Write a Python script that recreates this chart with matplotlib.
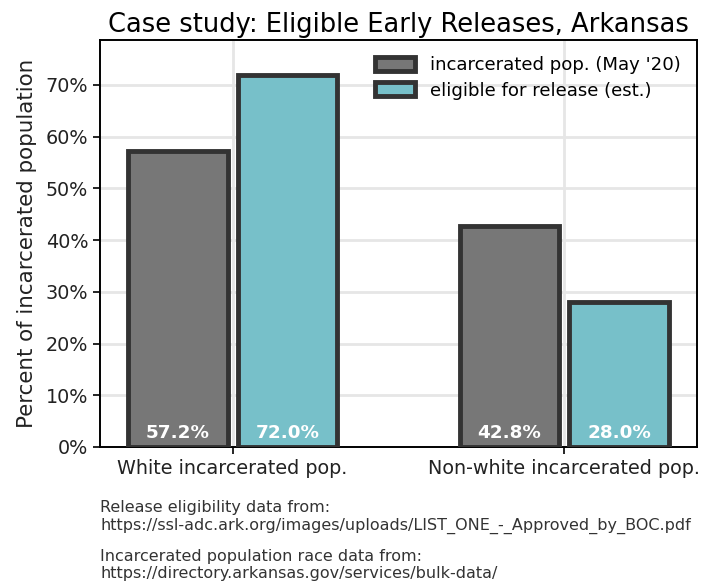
import numpy as np
import matplotlib
matplotlib.use('Agg')
import matplotlib.pyplot as plt
from matplotlib.ticker import PercentFormatter

# Data
groups = ['White incarcerated pop.', 'Non-white incarcerated pop.']
incarcerated = [57.2, 42.8]
eligible = [72.0, 28.0]
series_names = ["incarcerated pop. (May '20)", 'eligible for release (est.)']

fig = plt.figure(figsize=(7.01, 5.84), dpi=100)
ax = fig.add_axes([100/701, 1 - 447/584, 597/701, 407/584])

x = np.arange(len(groups))
w = 0.30
off = 0.165
edge = '#333333'
b1 = ax.bar(x - off, incarcerated, w, color='#777777', edgecolor=edge, linewidth=3.5,
            label=series_names[0], zorder=3)
b2 = ax.bar(x + off, eligible, w, color='#77c0c9', edgecolor=edge, linewidth=3.5,
            label=series_names[1], zorder=3)

# value labels at the bottom of each bar
for bars, vals in [(b1, incarcerated), (b2, eligible)]:
    for rect, v in zip(bars, vals):
        ax.text(rect.get_x() + rect.get_width() / 2, 1.0, f'{v:.1f}%',
                ha='center', va='bottom', color='white', fontsize=13.2,
                fontweight='bold', zorder=4)

ax.set_xlim(-0.4, 1.4)
ax.set_ylim(0, 78.7)
ax.set_yticks(np.arange(0, 71, 10))
ax.yaxis.set_major_formatter(PercentFormatter(decimals=0))
ax.set_xticks(x)
ax.set_xticklabels(groups)
ax.tick_params(labelsize=13.8, labelcolor='#222222', length=5, width=1.2)
ax.grid(True, color='#e6e6e6', linewidth=2, zorder=0)
ax.set_axisbelow(True)
for s in ax.spines.values():
    s.set_linewidth(1.4)
    s.set_color('black')

ax.set_ylabel('Percent of incarcerated population', fontsize=15.4, color='#222222', labelpad=6)
ax.set_title('Case study: Eligible Early Releases, Arkansas', fontsize=18.5, pad=6)

ax.legend(loc='upper right', frameon=False, fontsize=13.1, handlelength=2.2,
          handleheight=0.8, borderaxespad=0.5, labelspacing=0.4)

fig.text(100/701, 1 - 500/584,
         'Release eligibility data from:\nhttps://ssl-adc.ark.org/images/uploads/LIST_ONE_-_Approved_by_BOC.pdf',
         ha='left', va='top', fontsize=11.5, color='#333333', linespacing=1.2)
fig.text(100/701, 1 - 549/584,
         'Incarcerated population race data from:\nhttps://directory.arkansas.gov/services/bulk-data/',
         ha='left', va='top', fontsize=11.5, color='#333333', linespacing=1.2)

fig.savefig('out.png', dpi=100)
